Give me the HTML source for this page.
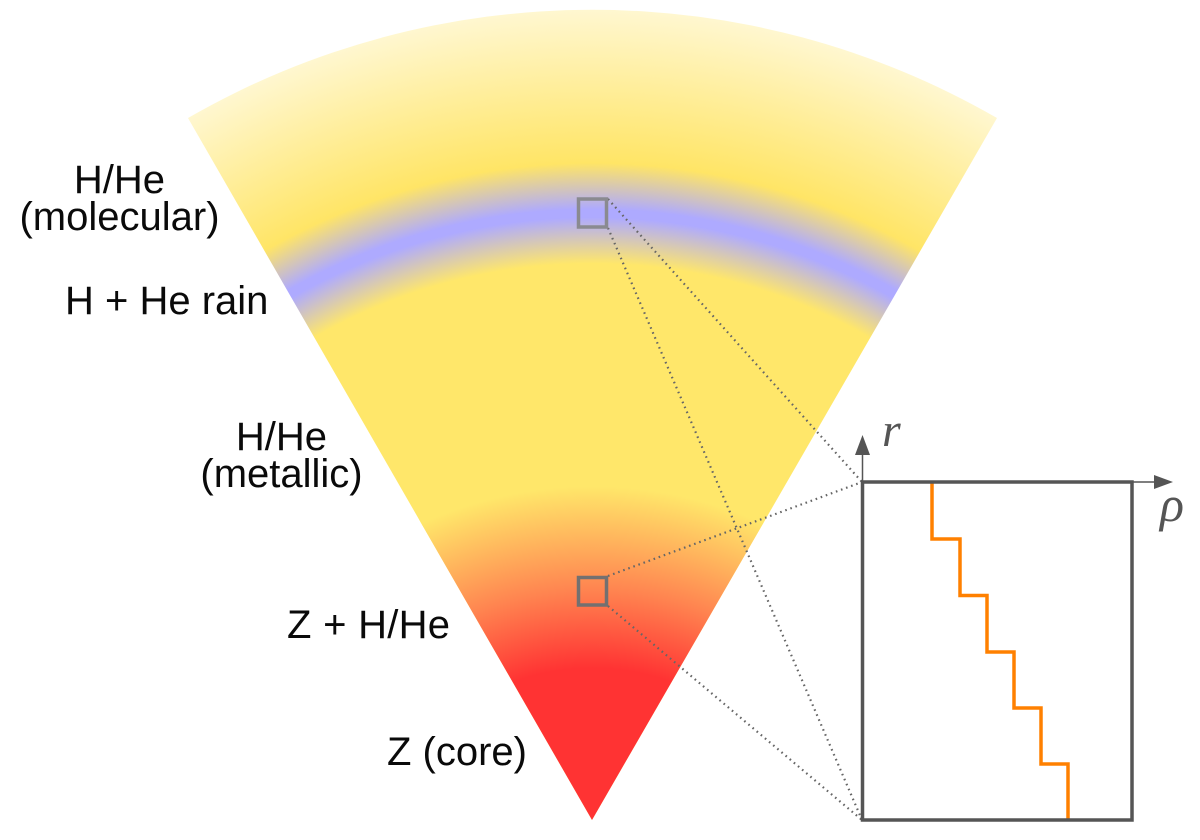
<!DOCTYPE html>
<html><head><meta charset="utf-8"><style>html,body{margin:0;padding:0;background:#fff;width:1200px;height:840px;overflow:hidden}svg{display:block}text{font-family:"Liberation Sans",sans-serif;font-size:40px;fill:#0a0a0a}.m{font-family:"Liberation Serif",serif;font-style:italic;fill:#555}</style></head><body>
<svg width="1200" height="840" viewBox="0 0 1200 840" xmlns="http://www.w3.org/2000/svg">
<defs>
<radialGradient id="g" gradientUnits="userSpaceOnUse" cx="592" cy="820" r="810">
<stop offset="0" stop-color="#ffe76a"/><stop offset=".687" stop-color="#ffe76a"/><stop offset=".744" stop-color="#aeaaff"/><stop offset=".754" stop-color="#aeaaff"/><stop offset=".811" stop-color="#ffe566"/><stop offset="1" stop-color="#fff7d0"/>
</radialGradient>
<radialGradient id="c" gradientUnits="userSpaceOnUse" cx="592" cy="900" r="420">
<stop offset="0" stop-color="#ff3333"/><stop offset=".552" stop-color="#ff3333"/><stop offset=".738" stop-color="#ff8450"/><stop offset=".985" stop-color="#ffe76a"/><stop offset="1" stop-color="#ffe76a" stop-opacity="0"/>
</radialGradient>
<clipPath id="w"><path d="M592 820L188 118A810 810 0 0 1 997 118Z"/></clipPath>
</defs>
<path d="M592 820L188 118A810 810 0 0 1 997 118Z" fill="url(#g)"/>
<rect x="188" y="470" width="810" height="355" fill="url(#c)" clip-path="url(#w)"/>
<g fill="none" stroke="#666" stroke-width="2.2" stroke-dasharray="1.6 3.8">
<path d="M608 199L862 482M608 228L862 820M608 576L862 482M608 606L862 820"/>
</g>
<rect x="578.500" y="199" width="28" height="28" fill="none" stroke="#8a8a90" stroke-width="3.500"/>
<rect x="578.500" y="577.500" width="28" height="27.500" fill="none" stroke="#747070" stroke-width="3.500"/>
<path d="M932 482V539H960V595.500H987V652H1014V708H1041V764H1068V820" fill="none" stroke="#ff8000" stroke-width="3.500"/>
<rect x="862.500" y="482" width="269.500" height="338" fill="none" stroke="#555" stroke-width="3.500"/>
<path d="M862.500 482V450M1132 482H1158" stroke="#555" stroke-width="1.500" fill="none"/>
<path d="M862.500 435L870 455H855ZM1173 482L1154 475V489Z" fill="#555"/>
<text class="m" x="882" y="446" style="font-size:48px">r</text>
<text class="m" x="1160" y="521" style="font-size:50px">ρ</text>
<g text-anchor="middle"><text x="119.500" y="193">H/He</text><text x="119.500" y="230">(molecular)</text><text x="281.500" y="450">H/He</text><text x="281.500" y="487">(metallic)</text></g>
<text x="65" y="314">H + He rain</text>
<text x="287" y="638" textLength="163">Z + H/He</text>
<text x="387" y="765">Z (core)</text>
</svg></body></html>
